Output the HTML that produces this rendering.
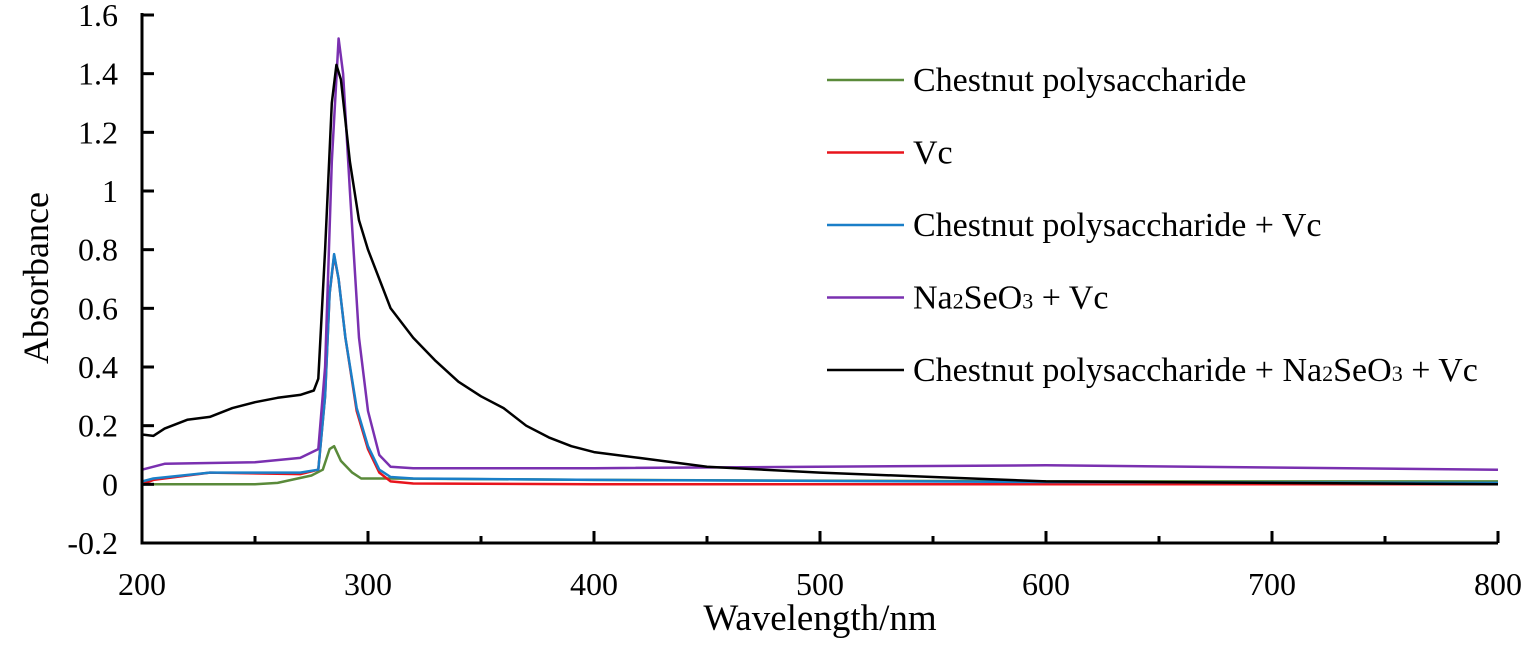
<!DOCTYPE html>
<html><head><meta charset="utf-8"><style>
body{margin:0;background:#fff;}
svg text{font-family:"Liberation Serif",serif;fill:#000;}
</style></head><body>
<svg id="chart" width="1535" height="641" viewBox="0 0 1535 641" xmlns="http://www.w3.org/2000/svg">
<g id="series"></g>
<g id="axes"></g>
<g id="legend"></g>
<text transform="translate(48,278) rotate(-90)" text-anchor="middle" font-size="36">Absorbance</text>
<text x="820" y="630" text-anchor="middle" font-size="37">Wavelength/nm</text>
</svg>
<script>
const xTicks=[200,300,400,500,600,700,800];
const yTicks=[-0.2,0,0.2,0.4,0.6,0.8,1,1.2,1.4,1.6];
const yTickLabels=["-0.2","0","0.2","0.4","0.6","0.8","1","1.2","1.4","1.6"];
const seriesNames=["Chestnut polysaccharide","Vc","Chestnut polysaccharide + Vc","Na2SeO3 + Vc","Chestnut polysaccharide + Na2SeO3 + Vc"];
const seriesColors=["#5a8a3a","#e8141c","#1a7fc8","#7a30b0","#000000"];
const greenX=[200,250,260,275,280,283,285,288,293,297,310,400,600,800];
const greenY=[0.0,0.0,0.005,0.03,0.05,0.12,0.13,0.08,0.04,0.02,0.02,0.015,0.01,0.01];
const redX=[200,205,230,270,278,281,283,285,287,290,295,300,305,310,320,400,600,800];
const redY=[0.0,0.015,0.04,0.035,0.05,0.3,0.65,0.78,0.7,0.5,0.25,0.12,0.04,0.01,0.003,0.0,0.0,0.0];
const blueX=[200,205,230,270,278,281,283,285,287,290,295,300,305,310,320,400,600,800];
const blueY=[0.01,0.02,0.04,0.04,0.05,0.3,0.65,0.785,0.7,0.5,0.26,0.13,0.05,0.025,0.02,0.015,0.008,0.005];
const purpleX=[200,210,250,270,278,281,284,287,289,292,296,300,305,310,320,400,600,800];
const purpleY=[0.05,0.07,0.075,0.09,0.12,0.4,1.1,1.52,1.4,1.0,0.5,0.25,0.1,0.06,0.055,0.055,0.065,0.05];
const blackX=[200,205,210,220,230,240,250,260,270,276,278,281,284,286,288,292,296,300,310,320,330,340,350,360,370,380,390,400,420,450,500,550,600,700,800];
const blackY=[0.17,0.165,0.19,0.22,0.23,0.26,0.28,0.295,0.305,0.32,0.36,0.8,1.3,1.43,1.38,1.1,0.9,0.8,0.6,0.5,0.42,0.35,0.3,0.26,0.2,0.16,0.13,0.11,0.09,0.06,0.04,0.025,0.01,0.005,0.0];

const NS="http://www.w3.org/2000/svg";
const X0=142,X1=1498,Y0=543,Y1=15;
function xs(v){return X0+(v-200)/600*(X1-X0);}
function ys(v){return Y0-(v+0.2)/1.8*(Y0-Y1);}
function mk(tag,attrs,parent){const e=document.createElementNS(NS,tag);for(const k in attrs)e.setAttribute(k,attrs[k]);parent.appendChild(e);return e;}
const sg=document.getElementById('series'),ag=document.getElementById('axes'),lg=document.getElementById('legend');
const all=[[greenX,greenY],[redX,redY],[blueX,blueY],[purpleX,purpleY],[blackX,blackY]];
[0,1,2,3,4].forEach(i=>{
  const [xa,ya]=all[i];
  const d=xa.map((x,j)=>(j?'L':'M')+xs(x).toFixed(1)+','+ys(ya[j]).toFixed(1)).join(' ');
  const p=mk('path',{d:d,fill:'none',stroke:seriesColors[i],'stroke-width':2.5,'stroke-linejoin':'round'},sg);
  
  
});
const ax=mk('path',{d:`M${X0},${Y1-2} L${X0},${Y0} L${X1},${Y0}`,fill:'none',stroke:'#000','stroke-width':3},ag);


yTicks.forEach((v,i)=>{
  const y=ys(v);
  mk('line',{x1:X0,x2:X0+12,y1:y,y2:y,stroke:'#000','stroke-width':3},ag);
  const t=mk('text',{x:X0-24,y:y+11,'text-anchor':'end','font-size':32},ag);
  t.textContent=yTickLabels[i];
  
  
});
xTicks.forEach((v,i)=>{
  const x=xs(v);
  mk('line',{x1:x,x2:x,y1:Y0,y2:Y0-12,stroke:'#000','stroke-width':3},ag);
  if(i<xTicks.length-1){const xm=xs(v+50);mk('line',{x1:xm,x2:xm,y1:Y0,y2:Y0-7,stroke:'#000','stroke-width':3},ag);}
  const t=mk('text',{x:x,y:Y0+52,'text-anchor':'middle','font-size':32},ag);
  t.textContent=String(v);
  
  
});
const legendLabels=['Chestnut polysaccharide','Vc','Chestnut polysaccharide + Vc','Na<tspan font-size="22">2</tspan>SeO<tspan font-size="22">3</tspan> + Vc','Chestnut polysaccharide + Na<tspan font-size="22">2</tspan>SeO<tspan font-size="22">3</tspan> + Vc'];
legendLabels.forEach((lab,i)=>{
  const y=80+i*72.5;
  const g=mk('g',{},lg);
  
  
  mk('line',{x1:827,x2:904,y1:y,y2:y,stroke:seriesColors[i],'stroke-width':2.5},g);
  const t=mk('text',{x:913,y:y+11,'font-size':34},g);
  t.innerHTML=lab;
});
</script>
</body></html>
